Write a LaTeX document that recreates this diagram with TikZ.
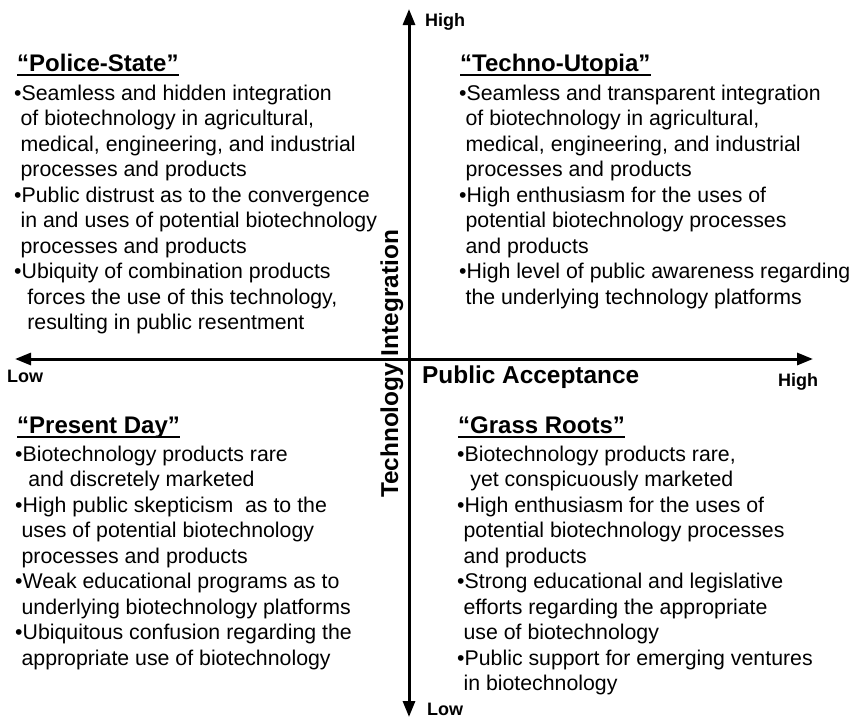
\documentclass[tikz,border=0pt]{standalone}
\usepackage{fontspec}
\setmainfont{Liberation Sans}
\usetikzlibrary{arrows.meta}

% type sizes
\newcommand\bodysize{\fontsize{21.3pt}{25.5pt}\selectfont}
\newcommand\titlesize{\fontsize{24pt}{28pt}\selectfont\bfseries}
\newcommand\tipsize{\fontsize{18pt}{21pt}\selectfont\bfseries}
\newcommand\axsize{\fontsize{24.4pt}{28pt}\selectfont\bfseries}
% hanging indents of continuation lines
\newcommand\lnind{\hspace*{0.3em}}
\newcommand\lnindd{\hspace*{0.62em}}
\newcommand\blk[1]{\begin{tabular}[t]{@{}l@{}}#1\end{tabular}}

\tikzset{
  axisline/.style={line width=3pt,
    {Triangle[length=16pt,width=12pt]}-{Triangle[length=16pt,width=12pt]}},
  scentitle/.style={anchor=base west, inner sep=0pt, font=\titlesize},
  scenbody/.style={anchor=base west, inner sep=0pt, font=\bodysize},
  endlabel/.style={anchor=base west, inner sep=0pt, font=\tipsize},
  axlabel/.style={inner sep=0pt, font=\axsize},
  uline/.style={line width=2pt},
}

\begin{document}
\begin{tikzpicture}[x=1pt,y=-1pt]
\fill[white] (0,0) rectangle (856,718);
\useasboundingbox (0,0) rectangle (856,718);

% axes
\coordinate (top) at (409,9);
\coordinate (bottom) at (409,717);
\coordinate (left) at (15,359);
\coordinate (right) at (813,359);
\draw[axisline] (bottom) -- (top);
\draw[axisline] (left) -- (right);

% axis end labels
\node[endlabel] (hiV) at (425,26) {High};
\node[endlabel] (loV) at (427,715) {Low};
\node[endlabel] (loH) at (7,382) {Low};
\node[endlabel] (hiH) at (778,386) {High};

% axis titles
\node[axlabel, anchor=base west] (pa) at (422,383) {Public Acceptance};
\node[axlabel, rotate=90, anchor=base] (ti) at (398,364) {Technology Integration};

% upper left
\node[scentitle] (tlT) at (17,71) {“Police-State”};
\draw[uline] ([yshift=-4pt]tlT.base west) -- ([yshift=-4pt]tlT.base east);
\node[scenbody] (tlB) at (14,100) {\blk{%
•Seamless and hidden integration\\
\lnind of biotechnology in agricultural,\\
\lnind medical, engineering, and industrial\\
\lnind processes and products\\
•Public distrust as to the convergence\\
\lnind in and uses of potential biotechnology\\
\lnind processes and products\\
•Ubiquity of combination products\\
\lnindd forces the use of this technology,\\
\lnindd resulting in public resentment}};

% upper right
\node[scentitle] (trT) at (460,71) {“Techno-Utopia”};
\draw[uline] ([yshift=-4pt]trT.base west) -- ([yshift=-4pt]trT.base east);
\node[scenbody] (trB) at (459,100) {\blk{%
•Seamless and transparent integration\\
\lnind of biotechnology in agricultural,\\
\lnind medical, engineering, and industrial\\
\lnind processes and products\\
•High enthusiasm for the uses of\\
\lnind potential biotechnology processes\\
\lnind and products\\
•High level of public awareness regarding\\
\lnind the underlying technology platforms}};

% lower left
\node[scentitle] (blT) at (17,433) {“Present Day”};
\draw[uline] ([yshift=-4pt]blT.base west) -- ([yshift=-4pt]blT.base east);
\node[scenbody] (blB) at (15,461) {\blk{%
•Biotechnology products rare\\
\lnindd and discretely marketed\\
•High public skepticism\ \ as to the\\
\lnind uses of potential biotechnology\\
\lnind processes and products\\
•Weak educational programs as to\\
\lnind underlying biotechnology platforms\\
•Ubiquitous confusion regarding the\\
\lnind appropriate use of biotechnology}};

% lower right
\node[scentitle] (brT) at (458,433) {“Grass Roots”};
\draw[uline] ([yshift=-4pt]brT.base west) -- ([yshift=-4pt]brT.base east);
\node[scenbody] (brB) at (457,461) {\blk{%
•Biotechnology products rare,\\
\lnindd yet conspicuously marketed\\
•High enthusiasm for the uses of\\
\lnind potential biotechnology processes\\
\lnind and products\\
•Strong educational and legislative\\
\lnind efforts regarding the appropriate\\
\lnind use of biotechnology\\
•Public support for emerging ventures\\
\lnind in biotechnology}};
\end{tikzpicture}
\end{document}
